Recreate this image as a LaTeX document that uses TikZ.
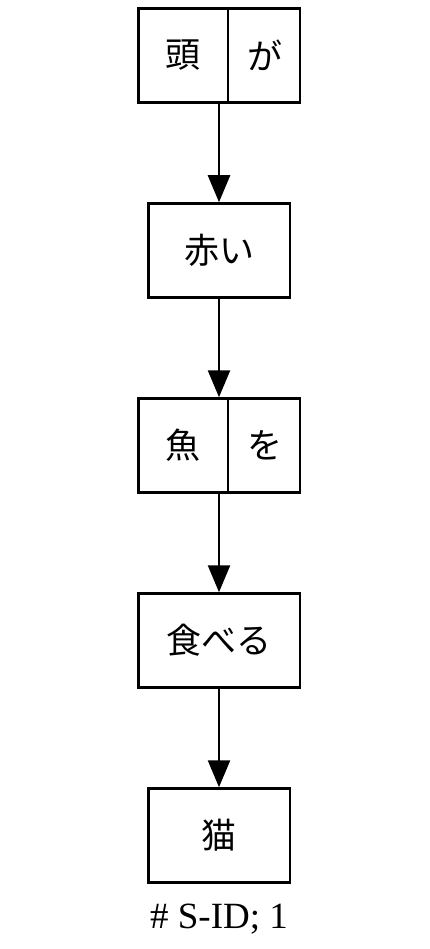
\documentclass[tikz,border=0pt]{standalone}
\usepackage{fontspec}
\setmainfont{Liberation Serif}
\newfontfamily\jpfont{Noto Sans CJK JP}
\usepackage{tikz}
\usetikzlibrary{arrows.meta,positioning,shapes.multipart}
\tikzset{wordbox/.style={draw=black,line width=2.5pt,fill=white,inner sep=0pt,minimum height=94pt,font=\jpfont\fontsize{35}{38}\selectfont},
  splitbox/.style={wordbox,rectangle split,rectangle split horizontal,rectangle split parts=2},
  deparrow/.style={-{Triangle[length=27pt,width=22pt]},line width=2.5pt},
  sidnote/.style={font=\fontsize{37}{40}\selectfont}}
\begin{document}
\begin{tikzpicture}[x=1pt,y=1pt,node distance=98.5pt]
\useasboundingbox (0,0) rectangle (430,-949);
\node[splitbox] (atama) at (219,-55.5) {\makebox[88.5pt]{頭}\nodepart{two}\makebox[70.5pt]{が}};
\node[wordbox,minimum width=141.5pt,below=of atama] (akai) {赤い};
\node[splitbox,below=of akai] (sakana) {\makebox[88.5pt]{魚}\nodepart{two}\makebox[70.5pt]{を}};
\node[wordbox,minimum width=161.5pt,below=of sakana] (taberu) {食べる};
\node[wordbox,minimum width=141.5pt,below=of taberu] (neko) {猫};
\node[sidnote,below=17pt of neko] (sid) {\# S-ID; 1};
\draw[deparrow] (atama.south) -- (akai.north);
\draw[deparrow] (akai.south) -- (sakana.north);
\draw[deparrow] (sakana.south) -- (taberu.north);
\draw[deparrow] (taberu.south) -- (neko.north);
\end{tikzpicture}
\end{document}
